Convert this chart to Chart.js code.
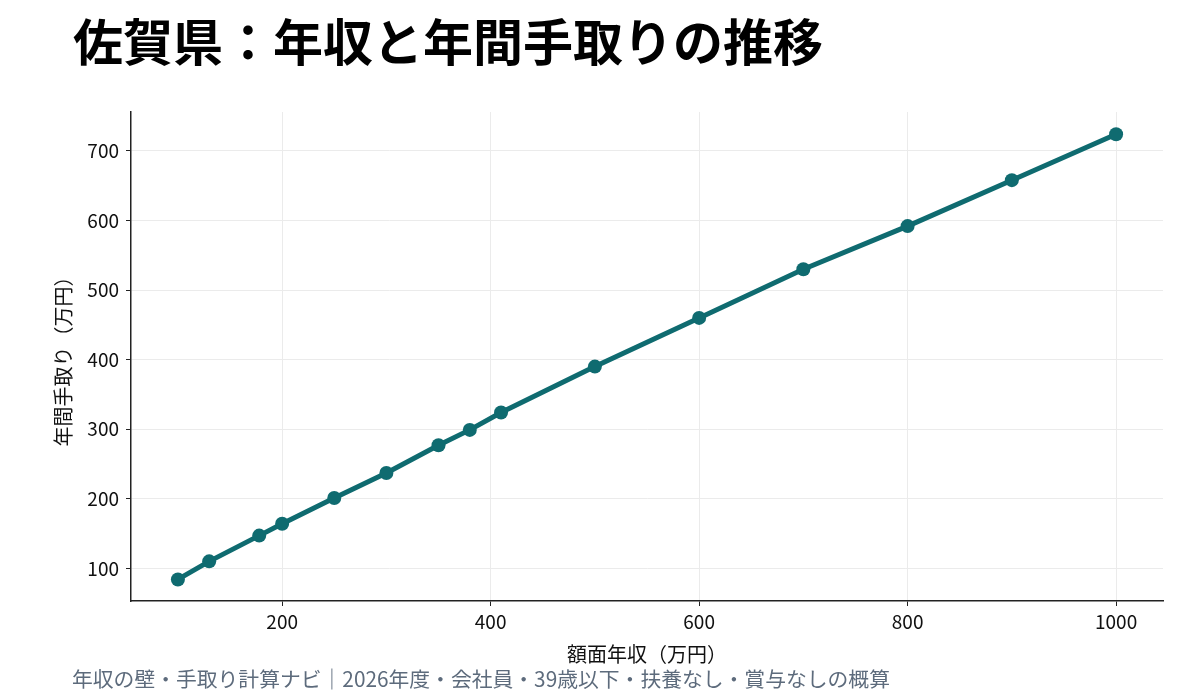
<!DOCTYPE html>
<html lang="ja">
<head>
<meta charset="utf-8">
<script src="https://cdn.jsdelivr.net/npm/chart.js@4.4.1/dist/chart.umd.min.js"></script>
<style>
  html, body { margin: 0; padding: 0; background: #fff; }
  #wrap { width: 1200px; height: 700px; }
</style>
</head>
<body>
<div id="wrap"><canvas id="chart" width="1200" height="700"></canvas></div>
<script>
// 額面年収 (万円)
const grossIncome = [100, 130, 178, 200, 250, 300, 350, 380, 410, 500, 600, 700, 800, 900, 1000];
// 年間手取り (万円)
const takeHome = [84, 110, 147, 164, 201, 237, 277, 299, 324, 390, 460, 530, 592, 658, 724];

const xTicks = [200, 400, 600, 800, 1000];
const yTicks = [100, 200, 300, 400, 500, 600, 700];

const titleText = '佐賀県：年収と年間手取りの推移';
const footText = '年収の壁・手取り計算ナビ｜2026年度・会社員・39歳以下・扶養なし・賞与なしの概算';

const jpFont = '"Noto Sans CJK JP", "Noto Sans", sans-serif';
const lineColor = '#0f6b70';

// title + footnote drawn on canvas
const textPlugin = {
    id: 'texts',
    afterDraw(chart) {
        const ctx = chart.ctx;
        ctx.save();
        ctx.textBaseline = 'middle';
        ctx.textAlign = 'left';
        ctx.fillStyle = '#000';
        ctx.font = 'bold 50px ' + jpFont;
        ctx.fillText(titleText, 73, 42);
        ctx.fillStyle = '#5d6b7c';
        ctx.font = '20.8px ' + jpFont;
        ctx.fillText(footText, 72, 679);
        ctx.restore();
    }
};

const points = grossIncome.map((x, i) => ({ x: x, y: takeHome[i] }));

new Chart(document.getElementById('chart'), {
    type: 'line',
    data: {
        datasets: [
            {
                data: points,
                borderColor: lineColor,
                backgroundColor: lineColor,
                borderWidth: 5,
                pointRadius: 7,
                pointHoverRadius: 7,
                pointBorderWidth: 0,
                tension: 0
            }
        ]
    },
    options: {
        responsive: false,
        animation: false,
        layout: {
            padding: { top: 112, right: 37, left: 1, bottom: 0 }
        },
        plugins: {
            legend: { display: false },
            tooltip: { enabled: false }
        },
        scales: {
            x: {
                type: 'linear',
                min: 55,
                max: 1045,
                afterFit: (s) => { s.height = 99; },
                afterBuildTicks: (s) => { s.ticks = xTicks.map(v => ({ value: v })); },
                grid: { color: '#ebebeb', lineWidth: 1, tickColor: '#222', tickLength: 5 },
                border: { color: '#222', width: 1.5 },
                ticks: {
                    color: '#111',
                    padding: 4,
                    font: { family: jpFont, size: 19 },
                    callback: (v) => String(v)
                },
                title: {
                    display: true,
                    text: '額面年収（万円）',
                    color: '#111',
                    padding: { top: 0, bottom: 34 },
                    font: { family: jpFont, size: 20 }
                }
            },
            y: {
                min: 53,
                max: 756,
                afterFit: (s) => { s.width = 130; },
                afterBuildTicks: (s) => { s.ticks = yTicks.map(v => ({ value: v })); },
                grid: { color: '#ebebeb', lineWidth: 1, tickColor: '#222', tickLength: 5 },
                border: { color: '#222', width: 1.5 },
                ticks: {
                    color: '#111',
                    padding: 7,
                    font: { family: jpFont, size: 19 },
                    callback: (v) => String(v)
                },
                title: {
                    display: true,
                    text: '年間手取り（万円）',
                    color: '#111',
                    padding: { top: 50, bottom: 0 },
                    font: { family: jpFont, size: 20 }
                }
            }
        }
    },
    plugins: [textPlugin]
});
</script>
</body>
</html>
